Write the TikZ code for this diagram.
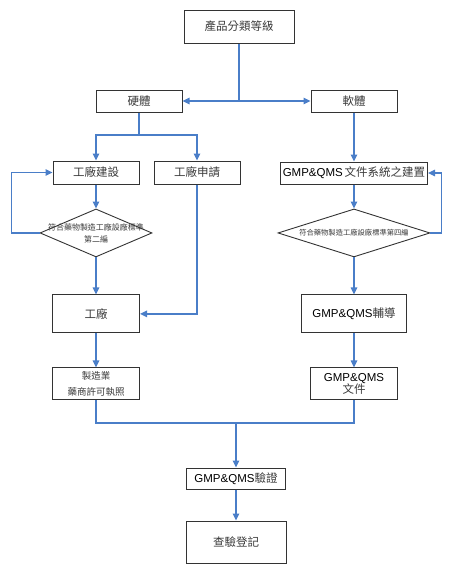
\documentclass[tikz,border=0pt]{standalone}
\usepackage{fontspec}
\setmainfont{Liberation Sans}
\newfontfamily\cjk{Noto Sans CJK TC}
\usetikzlibrary{positioning, shapes.geometric, arrows.meta}
\usepackage{xcolor}
\definecolor{lnblue}{HTML}{4A7EC8}
\definecolor{zhgray}{HTML}{3A3A3A}
\newcommand{\zh}[1]{{\cjk\color{zhgray}#1}}

\begin{document}
\begin{tikzpicture}[x=1pt, y=-1pt,
          b/.style={draw=black!80, line width=1pt, fill=white, inner sep=0pt, align=center, font=\fontsize{11.5}{13}\selectfont},
          dm/.style={diamond, draw=black!80, line width=0.9pt, inner sep=0pt, minimum width=112pt, minimum height=48pt},
          zl/.style={font=\cjk\fontsize{8}{12}\selectfont, text=zhgray, align=center, inner sep=0pt},
          ln/.style={draw=lnblue, line width=1.2pt},
          ar/.style={ln, -{Triangle[length=7pt,width=6.5pt]}}]
        \useasboundingbox (0,0) rectangle (464,576);
        \node[b, minimum width=110pt, minimum height=33pt] (top) at (239,26.5) {\zh{產品分類等級}};
        \node[b, minimum width=86pt, minimum height=22pt] (hw) at (139,101) {\zh{硬體}};
        \node[b, minimum width=86pt, minimum height=22pt] (sw) at (354,101) {\zh{軟體}};
        \node[b, minimum width=86pt, minimum height=23pt] (fb) at (96,172.5) {\zh{工廠建設}};
        \node[b, minimum width=86pt, minimum height=23pt] (fa) at (197,172.5) {\zh{工廠申請}};
        \node[dm, below=24pt of fb, label={[zl]center:{符合藥物製造工廠設廠標準\\第二編}}] (d1) {};
        \node[b, below=37pt of d1, minimum width=87pt, minimum height=38pt] (fac) {\zh{工廠}};
        \node[b, below=34pt of fac, minimum width=87pt, minimum height=32pt, font=\fontsize{9.5}{16}\selectfont] (lic) {\zh{製造業}\\\zh{藥商許可執照}};
        \node[b, minimum width=147pt, minimum height=22pt] (gs) at (354,173) {GMP\&QMS\,\zh{文件系統之建置}};
        \node[dm, below=24pt of gs, minimum width=152pt, label={[zl, font=\cjk\fontsize{7.3}{9}\selectfont]center:符合藥物製造工廠設廠標準第四編}] (d2) {};
        \node[b, below=37pt of d2, minimum width=105pt, minimum height=38pt] (gc) {GMP\&QMS\zh{輔導}};
        \node[b, below=34pt of gc, minimum width=87pt, minimum height=32pt, font=\fontsize{11.5}{12}\selectfont] (gd) {GMP\&QMS\\\zh{文件}};
        \node[b, minimum width=99pt, minimum height=21pt] (ver) at (236,478.5) {GMP\&QMS\zh{驗證}};
        \node[b, below=31pt of ver, minimum width=100pt, minimum height=42pt] (reg) {\zh{查驗登記}};
        \coordinate (j1) at (top.south |- hw.east);
        \coordinate (j2) at (139,135);
        \coordinate (j3) at (236,423);
        \draw[ln] (top) -- (j1);
        \draw[ar] (j1) -- (hw);
        \draw[ar] (j1) -- (sw);
        \draw[ln] (hw) -- (j2);
        \draw[ar] (j2) -| (fb);
        \draw[ar] (j2) -| (fa);
        \draw[ar] (fb) -- (d1);
        \draw[ar] (d1.west) -- ++(-28,0) |- (fb.west);
        \draw[ar] (d1) -- (fac);
        \draw[ar] (fa) |- (fac);
        \draw[ar] (fac) -- (lic);
        \draw[ar] (sw) -- (gs);
        \draw[ar] (gs) -- (d2);
        \draw[ar] (d2.east) -- ++(11,0) |- (gs.east);
        \draw[ar] (d2) -- (gc);
        \draw[ar] (gc) -- (gd);
        \draw[ln] (lic.south) |- (j3) -| (gd.south);
        \draw[ar] (j3) -- (ver);
        \draw[ar] (ver) -- (reg);
      \end{tikzpicture}
\end{document}
